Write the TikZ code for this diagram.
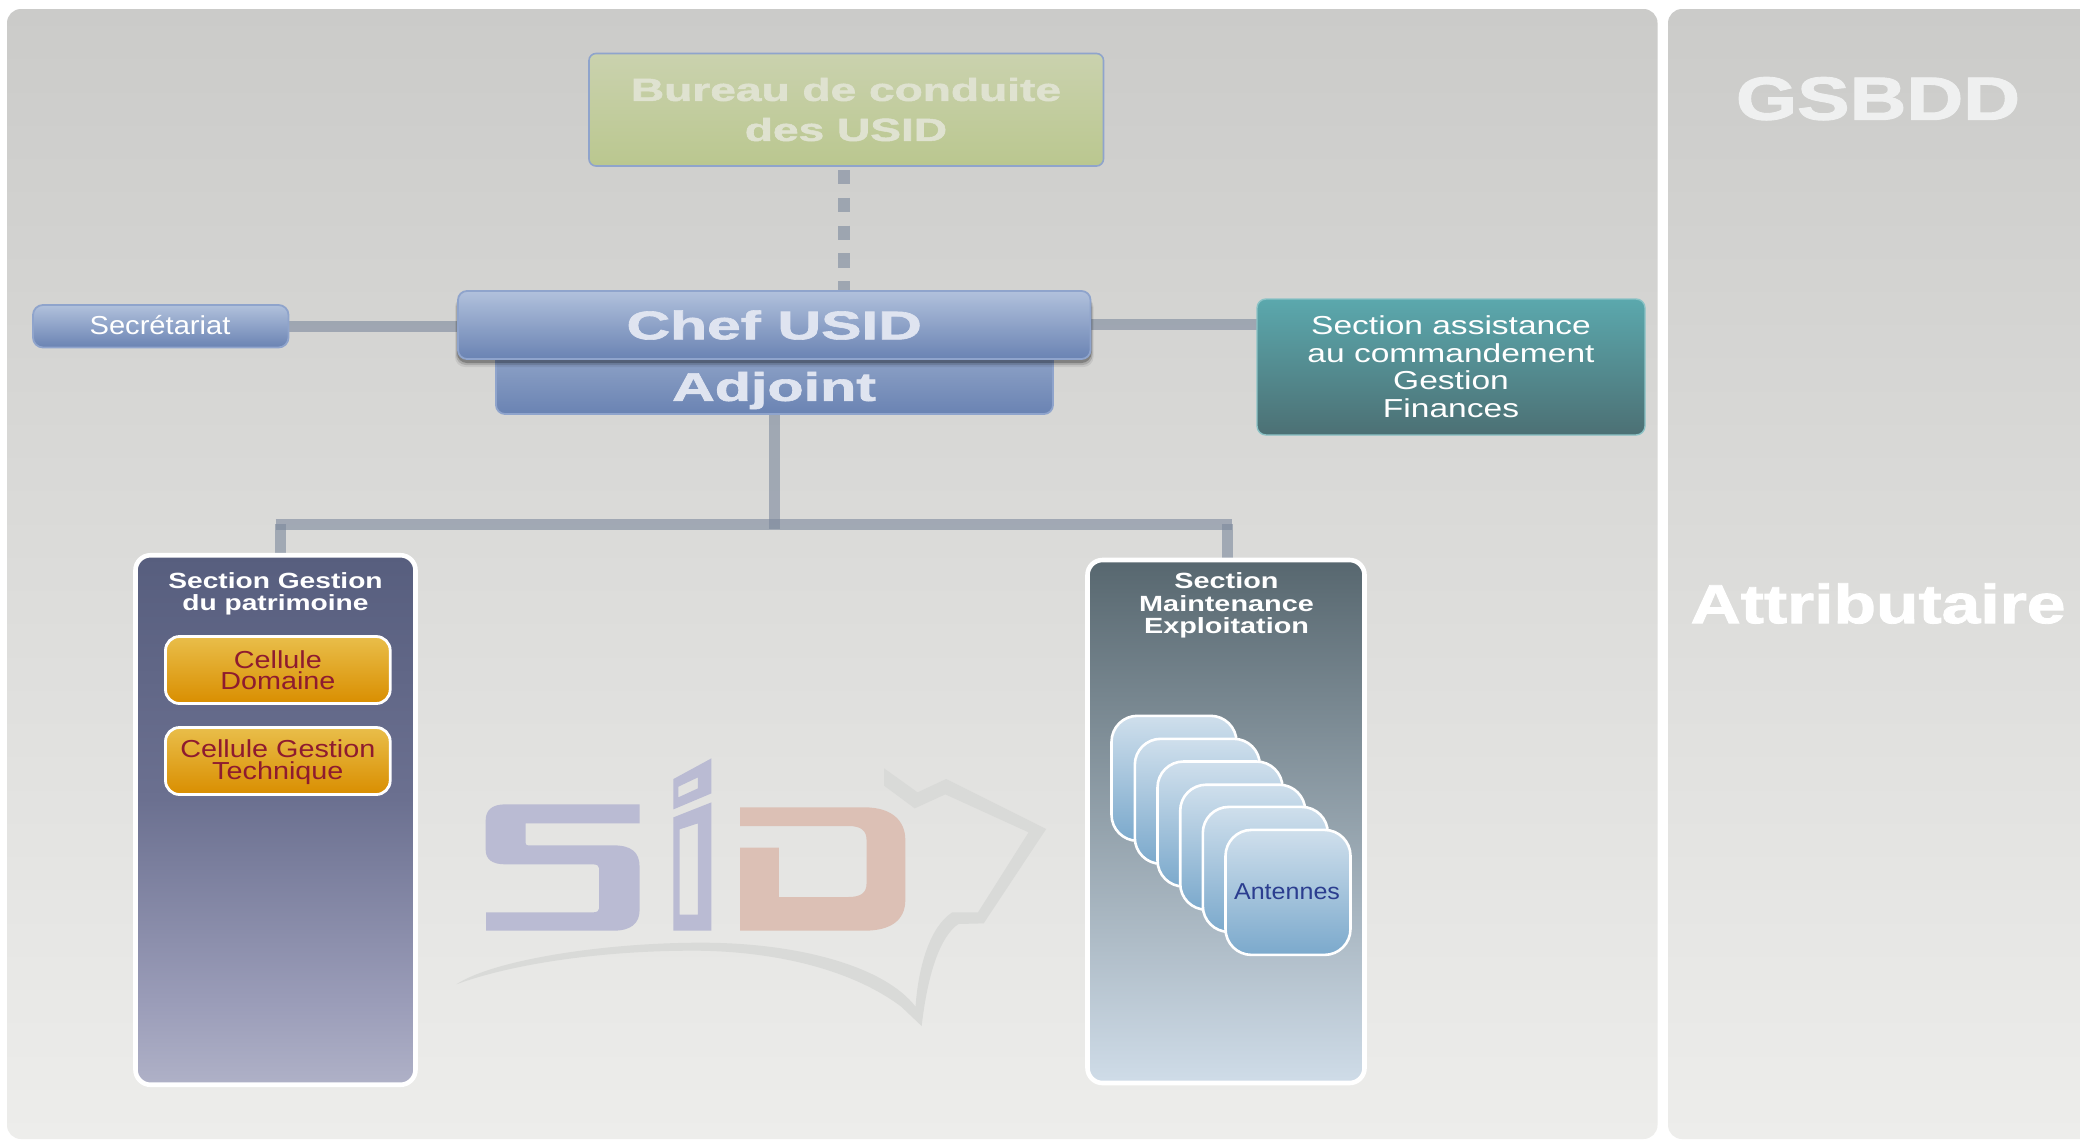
\documentclass[tikz,border=0pt]{standalone}
\usepackage{fontspec}
\setmainfont{Liberation Sans}
\newfontfamily\heavy[FakeBold=1.5]{Liberation Sans Bold}
\usetikzlibrary{calc}
\pgfdeclarelayer{bgl}
\pgfdeclarelayer{cnl}
\pgfsetlayers{bgl,cnl,main}
\newcommand\lbl[4]{\scalebox{#1}[1]{\fontsize{#2pt}{#3pt}\selectfont\vbox{\let\\\cr\halign{\hfil##\hfil\cr #4\crcr}}}}
\definecolor{conn}{HTML}{7B889C}
\definecolor{logoblue}{HTML}{BABBD3}
\definecolor{logored}{HTML}{DCC0B5}
\definecolor{logomap}{HTML}{D9DAD8}
\definecolor{celltxt}{HTML}{8E1B2F}
\definecolor{anttxt}{HTML}{2B3D8F}
\definecolor{panT}{HTML}{CBCBC9}
\definecolor{panB}{HTML}{EDEDEB}
\definecolor{bluT}{HTML}{B1C1DC}
\definecolor{bluB}{HTML}{6A83B3}
\definecolor{bluD}{HTML}{8FA4CC}
\definecolor{adjT}{HTML}{98ABCC}
\definecolor{burT}{HTML}{CAD2AE}
\definecolor{burB}{HTML}{BAC78F}
\definecolor{burX}{HTML}{DFE2D0}
\definecolor{hdrX}{HTML}{DFE4F0}
\definecolor{secT}{HTML}{5BA8AD}
\definecolor{secB}{HTML}{4C7074}
\definecolor{secD}{HTML}{8CC3C6}
\definecolor{maiT}{HTML}{57676F}
\definecolor{maiB}{HTML}{CFDCE8}
\definecolor{celT}{HTML}{E9BE4A}
\definecolor{celB}{HTML}{D98E00}
\definecolor{carT}{HTML}{CFDFEC}
\definecolor{carB}{HTML}{7BA9CC}
\definecolor{gsX}{HTML}{EFF0F0}
\definecolor{gs0}{HTML}{AFB1C7}
\definecolor{gs1}{HTML}{9A9CB8}
\definecolor{gs2}{HTML}{6B7090}
\definecolor{gs3}{HTML}{575E7E}
\pgfdeclareverticalshading{gestshade}{100bp}{color(0bp)=(gs0); color(25bp)=(gs0); color(33bp)=(gs1); color(52bp)=(gs2); color(75bp)=(gs3); color(100bp)=(gs3)}
\tikzset{
  sized/.style 2 args={minimum width=#1*0.5pt,minimum height=#2*0.5pt,inner sep=0pt,outer sep=0pt},
  panel/.style={rounded corners=7pt,top color=panT,bottom color=panB},
  connector/.style={draw=conn,opacity=.6,line width=5.5pt},
  dashconn/.style={draw=conn,opacity=.6,line width=6pt,dash pattern=on 7.15pt off 6.75pt},
  bluebox/.style={rounded corners=4.5pt,top color=bluT,bottom color=bluB,draw=bluD,line width=.9pt},
  cellbox/.style={sized={224.7}{67},rounded corners=7pt,top color=celT,bottom color=celB,draw=white,line width=1.4pt,text=celltxt},
  sectbox/.style={rounded corners=7.5pt,draw=white,line width=2.3pt},
  cardbox/.style={sized={125}{125},rounded corners=13pt,top color=carT,bottom color=carB,draw=white,line width=1.3pt},
  plain/.style={inner sep=0pt,outer sep=0pt},
}
\begin{document}
\begin{tikzpicture}[x=0.5pt,y=-0.5pt]
\useasboundingbox (0,0) rectangle (2080,1140);
\begin{pgfonlayer}{bgl}
\fill[white] (0,0) rectangle (2080,1140);
\node[panel,sized={1650.5}{1130}] (p1) at (832.25,574) {};
\node[panel,sized={460}{1130}] (p2) at (1898,574) {};
\begin{scope}[shift={(440,740)},x=0.20408pt,y=-0.16667pt]
\fill[logomap] (1088,85) -- (1170,157) -- (1240,117) -- (1485,267) -- (1332,550) -- (1270,552)
  .. controls (1225,590) and (1195,700) .. (1180,858) -- (1130,800)
  .. controls (1000,680) and (800,632) .. (620,632)
  .. controls (400,632) and (180,670) .. (40,733)
  .. controls (130,660) and (400,608) .. (640,608)
  .. controls (880,608) and (1090,680) .. (1165,800)
  .. controls (1172,680) and (1200,560) .. (1255,517) -- (1318,517) -- (1442,277)
  -- (1238,163) -- (1163,205) -- (1088,137) -- cycle;
\fill[logoblue] (489,193) -- (160,193) .. controls (128,193) and (112,210) .. (112,240) -- (112,330)
  .. controls (112,358) and (128,373) .. (160,373) -- (375,373) .. controls (385,373) and (390,378) .. (390,385)
  -- (390,505) .. controls (390,512) and (385,517) .. (375,517) -- (113,517) -- (113,572) -- (425,572)
  .. controls (468,572) and (489,550) .. (489,510) -- (489,380) .. controls (489,336) and (468,316) .. (425,316)
  -- (215,316) .. controls (212,316) and (210,313) .. (210,310) -- (210,250) -- (489,250) -- cycle;
\fill[logoblue,even odd rule] (572,117) -- (665,55) -- (665,160) -- (572,208) -- cycle
  (584,140) -- (632,112) -- (632,145) -- (584,172) -- cycle;
\fill[logoblue,even odd rule] (572,232) -- (665,187) -- (665,572) -- (572,572) -- cycle
  (587,268) -- (632,250) -- (632,524) -- (587,524) -- cycle;
\fill[logored] (735,202) -- (1040,202) .. controls (1105,202) and (1140,240) .. (1140,300) -- (1140,480)
  .. controls (1140,540) and (1105,572) .. (1040,572) -- (735,572) -- (735,323) -- (830,323) -- (830,471)
  -- (1000,471) .. controls (1032,471) and (1045,458) .. (1045,430) -- (1045,300)
  .. controls (1045,272) and (1032,258) .. (1000,258) -- (735,258) -- cycle;
\end{scope}
\end{pgfonlayer}
% boxes
\node[sized={514.5}{112.5},rounded corners=3.5pt,top color=burT,bottom color=burB,draw=bluD,line width=.8pt] (bureau) at (846.25,109.75) {};
\node[plain,text=burX] (bureautxt) at (846,109.5) {\lbl{1.44}{16}{20}{\heavy Bureau de conduite\\\heavy des USID}};
\node[bluebox,sized={557}{74},top color=adjT] (adj) at (774.5,377) {};
\node[plain,text=hdrX] (adjtxt) at (774,390.5) {\lbl{1.48}{20}{24}{\heavy Adjoint}};
\coordinate (cnw) at (458,291);
\coordinate (cse) at (1090.5,359);
\foreach \e/\o in {3/.07,2/.14,1/.24}{
  \fill[black,opacity=\o,rounded corners=5pt] ($(cnw)+(-\e,6)$) rectangle ($(cse)+(\e,2+2*\e)$);
}
\node[bluebox,sized={632.5}{68}] (chef) at (774.25,325) {};
\node[plain,text=hdrX] (cheftxt) at (774.25,325) {\lbl{1.51}{20}{24}{\heavy Chef USID}};
\node[bluebox,sized={255.5}{42.5},rounded corners=5pt] (secr) at (160.75,326.25) {};
\node[plain,text=white] (secrtxt) at (160,325) {\lbl{1.12}{13}{15}{Secrétariat}};
\node[sized={388}{136},rounded corners=4.5pt,top color=secT,bottom color=secB,draw=secD,line width=.7pt] (assist) at (1451,367) {};
\node[plain,text=white] (assisttxt) at (1451,366.7) {\lbl{1.29}{13}{13.8}{Section assistance\\au commandement\\Gestion\\Finances}};
\node[sized={280}{529.5},sectbox,shading=gestshade] (gest) at (275.5,820) {};
\node[plain,text=white] (gesttxt) at (275.5,593.4) {\lbl{1.28}{11}{11}{\bfseries Section Gestion\\\bfseries du patrimoine}};
\node[cellbox] (cell1) at (277.85,670) {};
\node[plain,text=celltxt] (cell1txt) at (277.85,670) {\lbl{1.17}{12.3}{10.8}{Cellule\\Domaine}};
\node[cellbox] (cell2) at (277.85,761) {};
\node[plain,text=celltxt] (cell2txt) at (277.85,762) {\lbl{1.17}{12.3}{10.8}{Cellule Gestion\\Technique}};
\node[sized={277}{523},sectbox,top color=maiT,bottom color=maiB] (maint) at (1226,821.5) {};
\node[plain,text=white] (mainttxt) at (1226.5,605.7) {\lbl{1.31}{11}{11.2}{\bfseries Section\\\bfseries Maintenance\\\bfseries Exploitation}};
\node[cardbox] (c1) at (1174,778.3) {};
\node[cardbox] (c2) at (1197.3,801.3) {};
\node[cardbox] (c3) at (1220,824) {};
\node[cardbox] (c4) at (1242.7,847.2) {};
\node[cardbox] (c5) at (1265.3,869.4) {};
\node[cardbox] (c6) at (1288,892.4) {};
\node[plain,text=anttxt] (anttxt) at (1287,892) {\lbl{1.09}{11.5}{13}{Antennes}};
\node[plain,text=gsX] (gsbdd) at (1878,98.7) {\lbl{1.29}{30.5}{34}{\heavy GSBDD}};
\node[plain,text=white] (attr) at (1878,603.5) {\lbl{1.265}{27.5}{32}{\heavy Attributaire}};
% connectors
\coordinate (dx) at (844,0);
\coordinate (asy) at (0,324);
\coordinate (busL) at (275.5,524);
\coordinate (busR) at (1232,524);
\coordinate (dropL) at (280.75,524);
\coordinate (dropR) at (1227,524);
\coordinate (junc) at (774,529);
\begin{pgfonlayer}{cnl}
\draw[dashconn] ($(dx |- bureau.south)+(0,4)$) -- (dx |- chef.north);
\draw[connector] (secr.east) -- (secr.east -| chef.west);
\draw[connector] (chef.east |- asy) -- (assist.west |- asy);
\draw[connector] (junc |- adj.south) -- (junc);
\draw[connector] (busL) -- (busR);
\draw[connector] (dropL) -- (dropL |- gest.north);
\draw[connector] (dropR) -- (dropR |- maint.north);
\end{pgfonlayer}
\end{tikzpicture}
\end{document}
